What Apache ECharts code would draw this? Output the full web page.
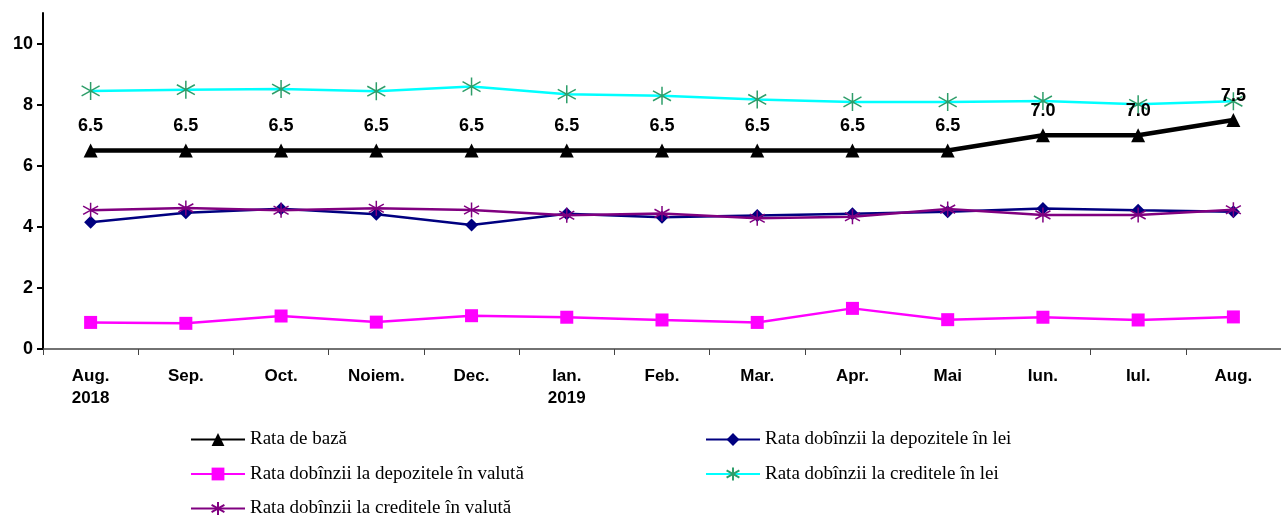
<!DOCTYPE html>
<html>
<head>
<meta charset="utf-8">
<script src="https://cdn.jsdelivr.net/npm/echarts@6/dist/echarts.min.js"></script>
<style>
  html, body { margin: 0; padding: 0; background: #fff; }
  #chart { width: 1281px; height: 517px; }
</style>
</head>
<body>
<div id="chart"></div>
<script>
// months, Aug 2018 .. Aug 2019
const categories = ['Aug.\n2018', 'Sep.', 'Oct.', 'Noiem.', 'Dec.', 'Ian.\n2019', 'Feb.', 'Mar.', 'Apr.', 'Mai', 'Iun.', 'Iul.', 'Aug.'];

const rataBaza   = [6.5, 6.5, 6.5, 6.5, 6.5, 6.5, 6.5, 6.5, 6.5, 6.5, 7.0, 7.0, 7.5];
const depLei     = [4.15, 4.46, 4.59, 4.41, 4.06, 4.43, 4.31, 4.37, 4.43, 4.49, 4.60, 4.54, 4.49];
const depValuta  = [0.87, 0.84, 1.08, 0.88, 1.09, 1.04, 0.95, 0.87, 1.33, 0.96, 1.04, 0.95, 1.05];
const credLei    = [8.45, 8.49, 8.51, 8.44, 8.59, 8.34, 8.29, 8.17, 8.09, 8.09, 8.12, 8.01, 8.11];
const credValuta = [4.54, 4.62, 4.54, 4.61, 4.55, 4.38, 4.44, 4.28, 4.33, 4.58, 4.39, 4.39, 4.56];

const yTicks = [0, 2, 4, 6, 8, 10];

const names = [
  'Rata de bază',
  'Rata dobînzii la depozitele în lei',
  'Rata dobînzii la depozitele în valută',
  'Rata dobînzii la creditele în lei',
  'Rata dobînzii la creditele în valută'
];

const asterisk = 'path://M10,0L10,20M1,4.5L19,15.5M1,15.5L19,4.5';
const legendText = { fontFamily: '"Liberation Serif", "Times New Roman", serif', fontSize: 19, color: '#000' };

const chart = echarts.init(document.getElementById('chart'));
chart.setOption({
  animation: false,
  grid: { left: 43, right: 0, top: 13, bottom: 168, containLabel: false },
  legend: [
    {
      orient: 'vertical', left: 185, top: 425, height: 100,
      itemWidth: 54, itemHeight: 16, itemGap: 15.5,
      textStyle: legendText,
      data: [names[0], names[2], names[4]]
    },
    {
      orient: 'vertical', left: 700, top: 425, height: 100,
      itemWidth: 54, itemHeight: 16, itemGap: 15.5,
      textStyle: legendText,
      data: [names[1], names[3]]
    }
  ],
  xAxis: {
    type: 'category',
    data: categories,
    boundaryGap: true,
    axisLine: { lineStyle: { color: '#444', width: 1.5 } },
    axisTick: { show: true, length: 6, lineStyle: { color: '#444' } },
    axisLabel: {
      interval: 0, margin: 16,
      fontFamily: '"Liberation Sans", Arial, sans-serif',
      fontSize: 17, fontWeight: 'bold', color: '#000', lineHeight: 22
    }
  },
  yAxis: {
    type: 'value',
    min: 0, max: 11, interval: 2,
    splitLine: { show: false },
    axisLine: { show: true, lineStyle: { color: '#000', width: 2 } },
    axisTick: { show: true, length: 6, customValues: yTicks, lineStyle: { color: '#000', width: 2 } },
    axisLabel: {
      margin: 10, customValues: yTicks,
      fontFamily: '"Liberation Sans", Arial, sans-serif',
      fontSize: 18, fontWeight: 'bold', color: '#000'
    }
  },
  series: [
    {
      name: names[0], type: 'line', data: rataBaza, z: 5,
      symbol: 'triangle', symbolSize: 14,
      itemStyle: { color: '#000' },
      lineStyle: { color: '#000', width: 4.5 },
      label: {
        show: true, position: 'top', distance: 8,
        formatter: p => p.value.toFixed(1),
        fontFamily: '"Liberation Sans", Arial, sans-serif',
        fontSize: 18, fontWeight: 'bold', color: '#000'
      }
    },
    {
      name: names[1], type: 'line', data: depLei, z: 3,
      symbol: 'diamond', symbolSize: 13,
      itemStyle: { color: '#000080' },
      lineStyle: { color: '#000080', width: 2.5 }
    },
    {
      name: names[2], type: 'line', data: depValuta, z: 3,
      symbol: 'rect', symbolSize: 13,
      itemStyle: { color: '#FF00FF' },
      lineStyle: { color: '#FF00FF', width: 2.5 }
    },
    {
      name: names[3], type: 'line', data: credLei, z: 4,
      symbol: asterisk, symbolSize: 18,
      itemStyle: { color: '#2E9E6A', borderColor: '#2E9E6A', borderWidth: 1.5 },
      lineStyle: { color: '#00FFFF', width: 2.5 }
    },
    {
      name: names[4], type: 'line', data: credValuta, z: 4,
      symbol: asterisk, symbolSize: 15,
      itemStyle: { color: '#800080', borderColor: '#800080', borderWidth: 1.5 },
      lineStyle: { color: '#800080', width: 2.5 }
    }
  ]
});
</script>
</body>
</html>
